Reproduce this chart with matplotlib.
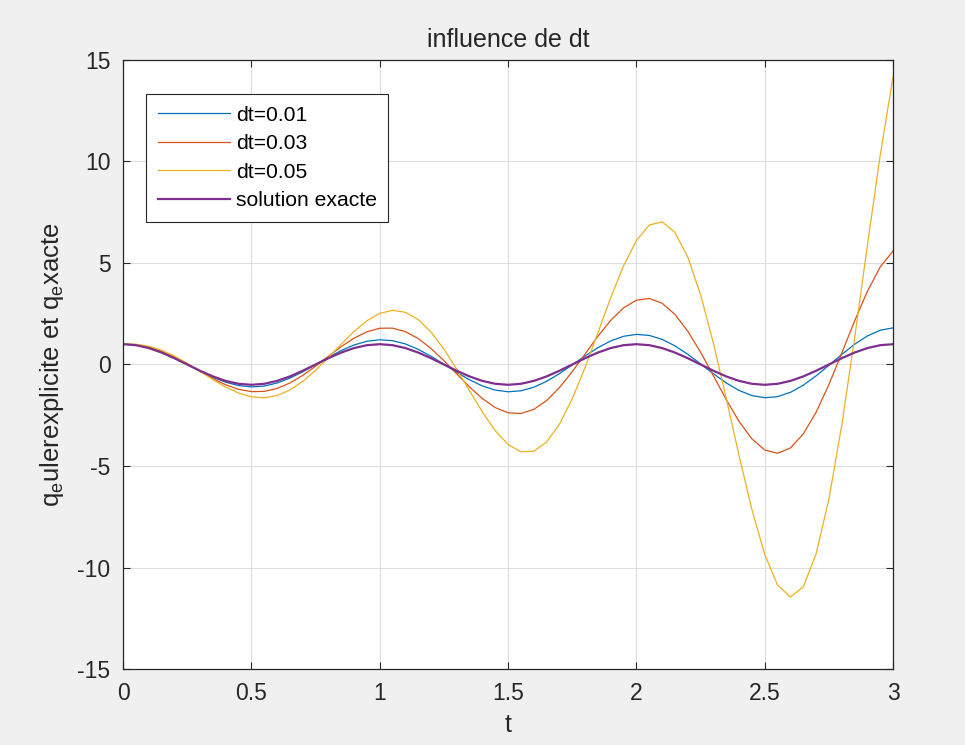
import numpy as np
import matplotlib
matplotlib.use('agg')
import matplotlib.pyplot as plt

plt.rcParams['font.family'] = ['Liberation Sans', 'DejaVu Sans']
plt.rcParams['mathtext.default'] = 'regular'
plt.rcParams['axes.unicode_minus'] = False

t = np.linspace(0, 3, 61)

q_dt001 = [1.000, 0.961, 0.826, 0.607, 0.323, 0.002, -0.325, -0.627, -0.873, -1.038,
           -1.104, -1.062, -0.914, -0.673, -0.361, -0.007, 0.354, 0.688, 0.961, 1.144,
           1.218, 1.173, 1.012, 0.747, 0.403, 0.013, -0.386, -0.755, -1.057, -1.261,
           -1.344, -1.296, -1.120, -0.829, -0.451, -0.021, 0.420, 0.829, 1.163, 1.389,
           1.483, 1.432, 1.239, 0.920, 0.503, 0.029, -0.458, -0.909, -1.279, -1.531,
           -1.636, -1.583, -1.372, -1.021, -0.562, -0.039, 0.498, 0.997, 1.408, 1.687,
           1.806]

q_dt003 = [1.000, 0.980, 0.862, 0.651, 0.363, 0.021, -0.343, -0.695, -0.999, -1.222,
           -1.337, -1.326, -1.182, -0.913, -0.537, -0.085, 0.403, 0.880, 1.298, 1.612,
           1.785, 1.791, 1.619, 1.276, 0.786, 0.188, -0.464, -1.109, -1.682, -2.123,
           -2.379, -2.415, -2.212, -1.778, -1.141, -0.352, 0.519, 1.390, 2.176, 2.792,
           3.168, 3.252, 3.018, 2.470, 1.643, 0.604, -0.557, -1.732, -2.807, -3.666,
           -4.213, -4.374, -4.110, -3.422, -2.353, -0.986, 0.561, 2.145, 3.611, 4.805,
           5.594]

q_dt005 = [1.000, 1.000, 0.901, 0.703, 0.416, 0.060, -0.338, -0.741, -1.111, -1.407,
           -1.594, -1.641, -1.531, -1.259, -0.835, -0.287, 0.344, 1.003, 1.628, 2.153,
           2.517, 2.669, 2.571, 2.210, 1.594, 0.761, -0.231, -1.298, -2.341, -3.256,
           -3.939, -4.301, -4.273, -3.819, -2.943, -1.689, -0.145, 1.566, 3.291, 4.861,
           6.105, 6.868, 7.028, 6.508, 5.294, 3.435, 1.054, -1.666, -4.489, -7.149,
           -9.362, -10.870, -11.451, -10.957, -9.331, -6.622, -2.990, 1.296, 5.876, 10.328,
           14.198]

q_exacte = [1.000, 0.951, 0.809, 0.588, 0.309, 0.000, -0.309, -0.588, -0.809, -0.951,
            -1.000, -0.951, -0.809, -0.588, -0.309, 0.000, 0.309, 0.588, 0.809, 0.951,
            1.000, 0.951, 0.809, 0.588, 0.309, 0.000, -0.309, -0.588, -0.809, -0.951,
            -1.000, -0.951, -0.809, -0.588, -0.309, 0.000, 0.309, 0.588, 0.809, 0.951,
            1.000, 0.951, 0.809, 0.588, 0.309, 0.000, -0.309, -0.588, -0.809, -0.951,
            -1.000, -0.951, -0.809, -0.588, -0.309, 0.000, 0.309, 0.588, 0.809, 0.951,
            1.000]

labels = ['dt=0.01', 'dt=0.03', 'dt=0.05', 'solution exacte']
colors = ['#0072BD', '#D95319', '#EDB120', '#7E2F8E']
xticks = [0, 0.5, 1, 1.5, 2, 2.5, 3]
yticks = [-15, -10, -5, 0, 5, 10, 15]

fig = plt.figure(figsize=(9.65, 7.45), dpi=100, facecolor='#f0f0f0')
ax = fig.add_axes([0.1275, 0.102, 0.798, 0.8175])

series = [q_dt001, q_dt003, q_dt005, q_exacte]
widths = [0.9, 0.9, 0.9, 1.6]
for q, lab, c, lw in zip(series, labels, colors, widths):
    ax.plot(t, q, color=c, lw=lw, label=lab)

ax.set_xlim(0, 3)
ax.set_ylim(-15, 15)
ax.set_xticks(xticks)
ax.set_xticklabels(['0', '0.5', '1', '1.5', '2', '2.5', '3'])
ax.set_yticks(yticks)
ax.grid(True, color='#dedede', lw=0.8)
ax.set_axisbelow(True)
for s in ax.spines.values():
    s.set_color('#262626')
    s.set_linewidth(0.9)
ax.tick_params(direction='in', length=5, width=0.8, top=True, right=True,
               colors='#262626', labelsize=16.5, pad=9)

ax.set_title('influence de dt', fontsize=18, color='#262626', pad=9)
ax.set_xlabel('t', fontsize=18, color='#262626', labelpad=6)
ax.set_ylabel('q$_e$ulerexplicite et q$_e$xacte', fontsize=18.5, color='#262626', labelpad=8)

leg = ax.legend(loc='upper left', bbox_to_anchor=(0.03, 0.944), borderaxespad=0,
                fontsize=15.2, handlelength=3.4, labelspacing=0.45, handletextpad=0.3,
                borderpad=0.55, fancybox=False, framealpha=1)
leg.get_frame().set_edgecolor('#262626')
leg.get_frame().set_linewidth(0.8)
for txt in leg.get_texts():
    txt.set_color('#000000')

fig.savefig('out.png', dpi=100, facecolor=fig.get_facecolor())
